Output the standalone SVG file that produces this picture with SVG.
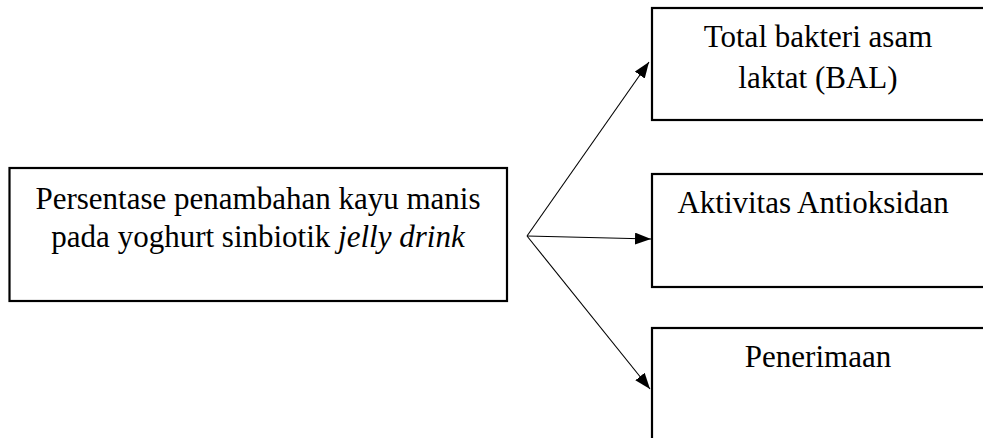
<svg xmlns="http://www.w3.org/2000/svg" width="983" height="438" viewBox="0 0 983 438">
<style>
.box{fill:#fff;stroke:#000;stroke-width:2.2}
.t{font-family:"Liberation Serif","Times New Roman",serif;font-size:31px;fill:#000}
.c{stroke:#000;stroke-width:1.1;fill:none}
</style>
<defs>
<marker id="ah" viewBox="0 0 16 12" refX="16" refY="6" markerWidth="16" markerHeight="12" markerUnits="userSpaceOnUse" orient="auto">
<path d="M0,0 L16,6 L0,12 Z" fill="#000"/>
</marker>
</defs>
<rect width="983" height="438" fill="#fff"/>
<g id="node-source">
<rect class="box" x="9.5" y="168" width="497.5" height="133"/>
<text class="t" x="258" y="209" text-anchor="middle">Persentase penambahan kayu manis</text>
<text class="t" x="258" y="247" text-anchor="middle">pada yoghurt sinbiotik <tspan font-style="italic">jelly drink</tspan></text>
</g>
<g id="node-bal">
<rect class="box" x="652" y="8" width="340" height="112"/>
<text class="t" x="818" y="47" text-anchor="middle">Total bakteri asam</text>
<text class="t" x="818" y="88" text-anchor="middle">laktat (BAL)</text>
</g>
<g id="node-antioksidan">
<rect class="box" x="652" y="174" width="340" height="113"/>
<text class="t" x="813" y="213" text-anchor="middle">Aktivitas Antioksidan</text>
</g>
<g id="node-penerimaan">
<rect class="box" x="652" y="328" width="340" height="130"/>
<text class="t" x="818" y="367" text-anchor="middle">Penerimaan</text>
</g>
<g id="connectors">
<line class="c" x1="527" y1="236" x2="649" y2="62" marker-end="url(#ah)"/>
<line class="c" x1="527" y1="236" x2="651" y2="239" marker-end="url(#ah)"/>
<line class="c" x1="527" y1="236" x2="650" y2="389" marker-end="url(#ah)"/>
</g>
</svg>
